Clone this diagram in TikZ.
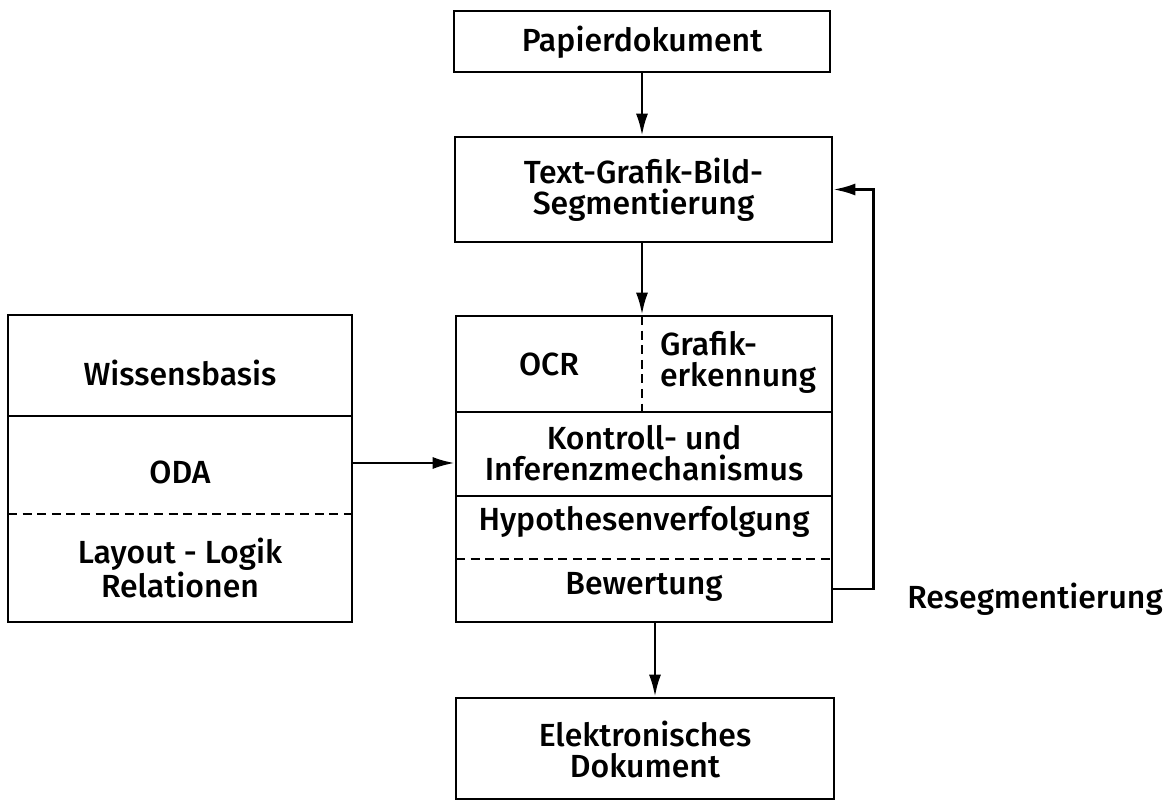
\documentclass[tikz,border=0pt]{standalone}
\usepackage{fontspec}
\setmainfont{Fira Sans Medium}
\usetikzlibrary{arrows.meta}
\tikzset{
  frame/.style={draw, line width=1.3pt, inner sep=0pt},
  lbl/.style={inner sep=0pt, align=center, font=\fontsize{16}{15.5}\selectfont},
  divider/.style={line width=1.3pt},
  dashdiv/.style={line width=1.3pt, dash pattern=on 4.5pt off 2.8pt},
  arr/.style={line width=1.3pt, -{Latex[length=11pt,width=6pt]}}
}
\begin{document}
\begin{tikzpicture}[x=0.5pt,y=-0.5pt]
\useasboundingbox (0,0) rectangle (1172,801);
% boxes
\node[frame, minimum width=188pt, minimum height=30.5pt] (pap) at (642,41.5) {};
\node[lbl] (paptxt) at (642,42) {Papierdokument};
\node[frame, minimum width=188.5pt, minimum height=52.5pt] (tgb) at (643.5,189.5) {};
\node[lbl] (tgbtxt) at (643.5,190) {Text-Grafik-Bild-\\Segmentierung};
\node[frame, minimum width=188pt, minimum height=153pt] (main) at (644,469) {};
\node[frame, minimum width=189pt, minimum height=50.5pt] (elek) at (645,748.5) {};
\node[lbl] (elektxt) at (645,749) {Elektronisches\\Dokument};
\node[frame, minimum width=172pt, minimum height=153.5pt] (left) at (180,468.5) {};
% main box inner structure
\coordinate (m1) at (456,412); \coordinate (m1r) at (832,412);
\coordinate (m2) at (456,496); \coordinate (m2r) at (832,496);
\coordinate (m3) at (456,559); \coordinate (m3r) at (832,559);
\coordinate (mv) at (642,316); \coordinate (mvb) at (642,412);
\draw[divider] (m1) -- (m1r);
\draw[divider] (m2) -- (m2r);
\draw[dashdiv] (m3) -- (m3r);
\draw[dashdiv] (mv) -- (mvb);
\node[lbl] (ocr) at (549,364) {OCR};
\node[lbl, align=left] (graf) at (738,362) {Grafik-\\erkennung};
\node[lbl] (kontr) at (644,453) {Kontroll- und\\Inferenzmechanismus};
\node[lbl] (hypo) at (644,522) {Hypothesenverfolgung};
\node[lbl] (bew) at (644,587) {Bewertung};
% left box inner structure
\coordinate (l1) at (8,416); \coordinate (l1r) at (352,416);
\coordinate (l2) at (8,514); \coordinate (l2r) at (352,514);
\draw[divider] (l1) -- (l1r);
\draw[dashdiv] (l2) -- (l2r);
\node[lbl] (wiss) at (180,373) {Wissensbasis};
\node[lbl] (oda) at (180,472) {ODA};
\node[lbl] (lay) at (180,568) {Layout - Logik\\Relationen};
% connectors
\draw[arr] (pap.south) -- (pap.south |- tgb.north);
\draw[arr] ([xshift=-0.75pt]tgb.south) -- ([xshift=-0.75pt]tgb.south |- main.north);
\draw[arr] ([xshift=5.5pt]main.south) -- ([xshift=5.5pt]main.south |- elek.north);
\draw[arr] ([yshift=2.75pt]left.east) -- ([yshift=2.75pt]left.east -| main.west);
\draw[arr] ([yshift=-60pt]main.east) -- ++(20pt,0) |- (tgb.east);
\node[lbl] (reseg) at (1035,599) {Resegmentierung};
\end{tikzpicture}
\end{document}
